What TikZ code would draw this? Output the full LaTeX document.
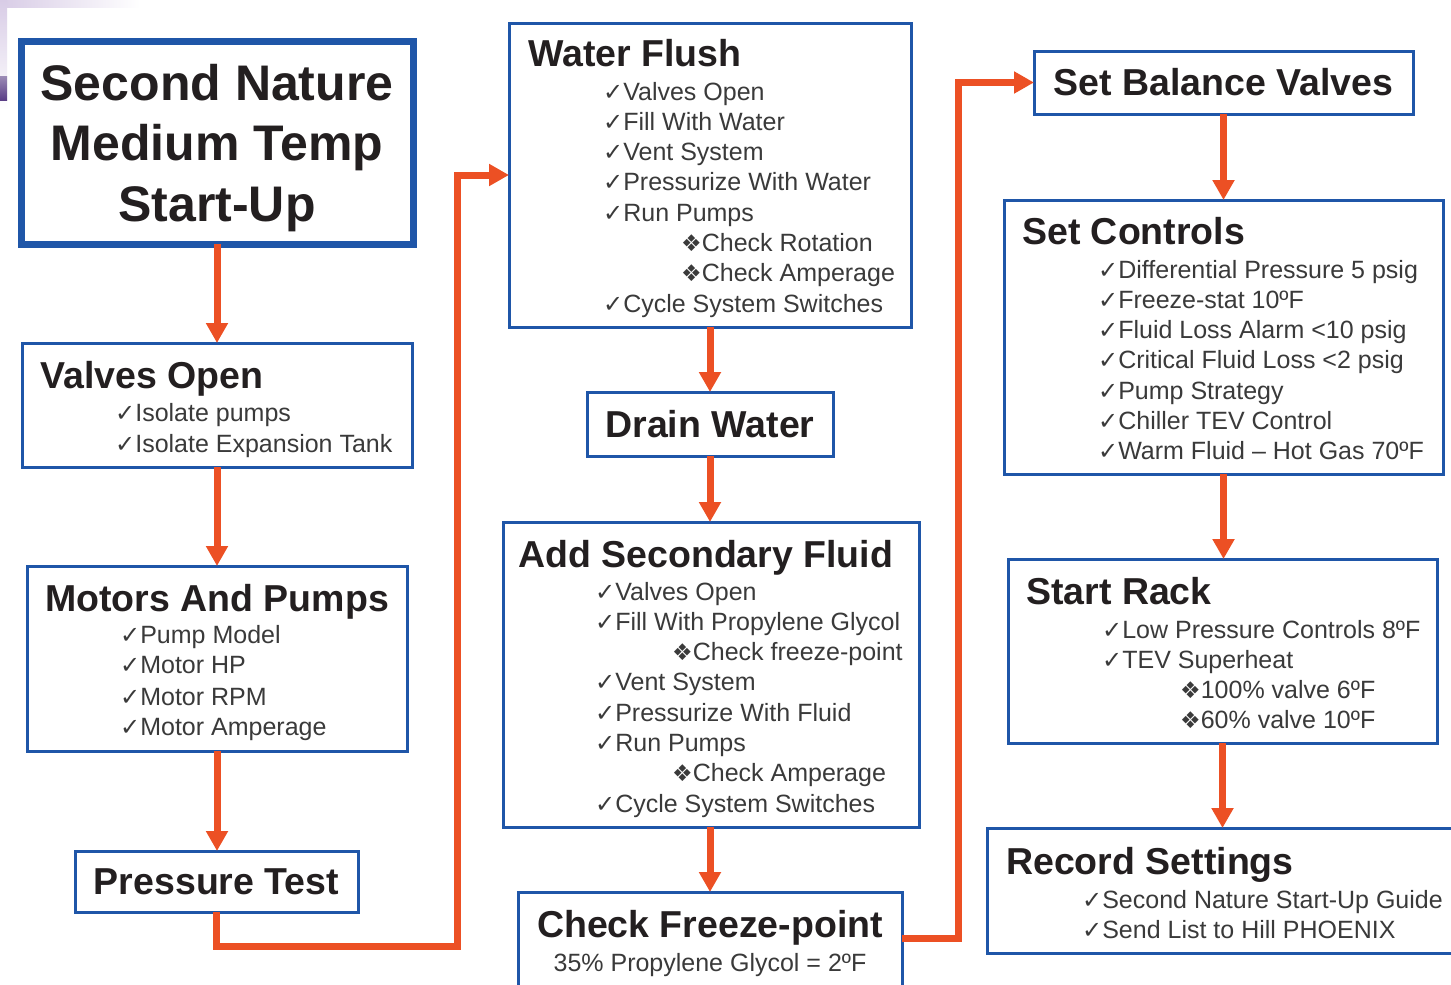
\documentclass[tikz,border=0pt]{standalone}
\usepackage{fontspec}
\setmainfont{Liberation Sans}
\newfontfamily\symf{DejaVu Sans}
\usetikzlibrary{arrows.meta}
\definecolor{bxblue}{HTML}{1F56A8}
\definecolor{arrred}{HTML}{EC5024}
\definecolor{hdtext}{HTML}{231F20}
\definecolor{ittext}{HTML}{3A3A3A}
\definecolor{lav}{HTML}{D8CCE6}
\definecolor{dpurp}{HTML}{5A3E86}
\newcommand{\ck}{{\symf\fontsize{24}{24}\selectfont ✓}}
\newcommand{\dm}{{\symf\fontsize{23}{23}\selectfont ❖}}
\tikzset{
  box/.style={draw=bxblue, line width=3pt, fill=white, inner sep=0pt, outer sep=0pt, anchor=north west},
  cbox/.style={draw=bxblue, line width=3pt, fill=white, inner sep=0pt, outer sep=0pt, anchor=north west,
    font=\bfseries\fontsize{37.5}{40}\selectfont, text=hdtext, align=center},
  hdr/.style={font=\bfseries\fontsize{37.5}{40}\selectfont, text=hdtext, inner sep=0pt, anchor=base west},
  ttl/.style={font=\bfseries\fontsize{50}{55}\selectfont, text=hdtext, inner sep=0pt, anchor=base},
  itm/.style={font=\fontsize{25}{28}\selectfont, text=ittext, inner sep=0pt, anchor=base west},
  arr/.style={draw=arrred, line width=7pt, -{Triangle[length=20pt,width=21pt]}}
}
\begin{document}
\begin{tikzpicture}[x=1pt,y=-1pt]
\clip (0,0) rectangle (1451,985);
\fill[white] (0,0) rectangle (1451,985);
% slide background remnants
\shade[left color=lav, right color=white] (0,0) rectangle (140,7);
\shade[top color=lav, bottom color=white] (0,0) rectangle (7,110);
\shade[top color=dpurp!60, bottom color=dpurp] (0,76) rectangle (7,100);

% ---------- left column ----------
\node[box, line width=7pt, minimum width=392pt, minimum height=203pt] (title) at (21,41) {};
\node[ttl] (t1) at (217,100) {Second Nature};
\node[ttl] (t2) at (217,160) {Medium Temp};
\node[ttl] (t3) at (217,221) {Start-Up};

\node[box, minimum width=390pt, minimum height=124pt] (vo) at (22,343) {};
\node[hdr] (voh) at (40,388) {Valves Open};
\node[itm] (vo1) at (115,421) {\ck Isolate pumps};
\node[itm] (vo2) at (115,452) {\ck Isolate Expansion Tank};

\node[box, minimum width=380pt, minimum height=185pt] (mp) at (27,566) {};
\node[hdr] (mph) at (45,611) {Motors And Pumps};
\node[itm] (mp1) at (120,643) {\ck Pump Model};
\node[itm] (mp2) at (120,673) {\ck Motor HP};
\node[itm] (mp3) at (120,705) {\ck Motor RPM};
\node[itm] (mp4) at (120,735) {\ck Motor Amperage};

\node[cbox, minimum width=283pt, minimum height=61pt] (pt) at (75,851) {Pressure Test};

% ---------- middle column ----------
\node[box, minimum width=402pt, minimum height=304pt] (wf) at (509,23) {};
\node[hdr] (wfh) at (528,66) {Water Flush};
\node[itm] (wf1) at (603,100) {\ck Valves Open};
\node[itm] (wf2) at (603,130.3) {\ck Fill With Water};
\node[itm] (wf3) at (603,160.6) {\ck Vent System};
\node[itm] (wf4) at (603,190.9) {\ck Pressurize With Water};
\node[itm] (wf5) at (603,221.2) {\ck Run Pumps};
\node[itm] (wf6) at (681,251.5) {\dm Check Rotation};
\node[itm] (wf7) at (681,281.8) {\dm Check Amperage};
\node[itm] (wf8) at (603,312.1) {\ck Cycle System Switches};

\node[cbox, minimum width=246pt, minimum height=64pt] (dw) at (587,392) {Drain Water};

\node[box, minimum width=416pt, minimum height=305pt] (asf) at (503,522) {};
\node[hdr] (asfh) at (518,567) {Add Secondary Fluid};
\node[itm] (as1) at (595,600) {\ck Valves Open};
\node[itm] (as2) at (595,630.3) {\ck Fill With Propylene Glycol};
\node[itm] (as3) at (672,660.6) {\dm Check freeze-point};
\node[itm] (as4) at (595,690.9) {\ck Vent System};
\node[itm] (as5) at (595,721.2) {\ck Pressurize With Fluid};
\node[itm] (as6) at (595,751.5) {\ck Run Pumps};
\node[itm] (as7) at (672,781.8) {\dm Check Amperage};
\node[itm] (as8) at (595,812.1) {\ck Cycle System Switches};

\node[box, minimum width=384pt, minimum height=100pt] (cf) at (518,892) {};
\node[hdr, anchor=base] (cfh) at (710,937) {Check Freeze-point};
\node[itm, anchor=base] (cf1) at (710,971) {35\% Propylene Glycol = 2ºF};

% ---------- right column ----------
\node[cbox, minimum width=379pt, minimum height=63pt] (sbv) at (1034,51) {Set Balance Valves};

\node[box, minimum width=439pt, minimum height=274pt] (sc) at (1004,200) {};
\node[hdr] (sch) at (1022,244) {Set Controls};
\node[itm] (sc1) at (1098,278) {\ck Differential Pressure 5 psig};
\node[itm] (sc2) at (1098,308.3) {\ck Freeze-stat 10ºF};
\node[itm] (sc3) at (1098,338.6) {\ck Fluid Loss Alarm <10 psig};
\node[itm] (sc4) at (1098,368.9) {\ck Critical Fluid Loss <2 psig};
\node[itm] (sc5) at (1098,399.2) {\ck Pump Strategy};
\node[itm] (sc6) at (1098,429.5) {\ck Chiller TEV Control};
\node[itm] (sc7) at (1098,459.8) {\ck Warm Fluid – Hot Gas 70ºF};

\node[box, minimum width=429pt, minimum height=184pt] (sr) at (1008,559) {};
\node[hdr] (srh) at (1026,604) {Start Rack};
\node[itm] (sr1) at (1102,638) {\ck Low Pressure Controls 8ºF};
\node[itm] (sr2) at (1102,668.3) {\ck TEV Superheat};
\node[itm] (sr3) at (1180,698.6) {\dm 100\% valve 6ºF};
\node[itm] (sr4) at (1180,728.9) {\dm 60\% valve 10ºF};

\node[box, minimum width=470pt, minimum height=125pt] (rs) at (987,828) {};
\node[hdr] (rsh) at (1006,874) {Record Settings};
\node[itm] (rs1) at (1082,908) {\ck Second Nature Start-Up Guide};
\node[itm] (rs2) at (1082,938.3) {\ck Send List to Hill PHOENIX};

% ---------- connectors ----------
\draw[arr] (title.south) -- (vo.north);
\draw[arr] (vo.south) -- (mp.north);
\draw[arr] (mp.south) -- (mp.south |- pt.north);
\coordinate (e1) at (457,946);
\draw[arr] (pt.south) |- (e1) |- (wf.west);
\draw[arr] (wf.south) -- (wf.south |- dw.north);
\draw[arr] (dw.south) -- (dw.south |- asf.north);
\draw[arr] (asf.south -| dw.south) -- (dw.south |- cf.north);
\coordinate (e2) at (958,938);
\draw[arr] (e2 -| cf.east) -- (e2) |- (sbv.west);
\draw[arr] (sbv.south) -- (sbv.south |- sc.north);
\draw[arr] (sc.south) -- (sc.south |- sr.north);
\draw[arr] (sr.south) -- (sr.south |- rs.north);
\end{tikzpicture}
\end{document}
